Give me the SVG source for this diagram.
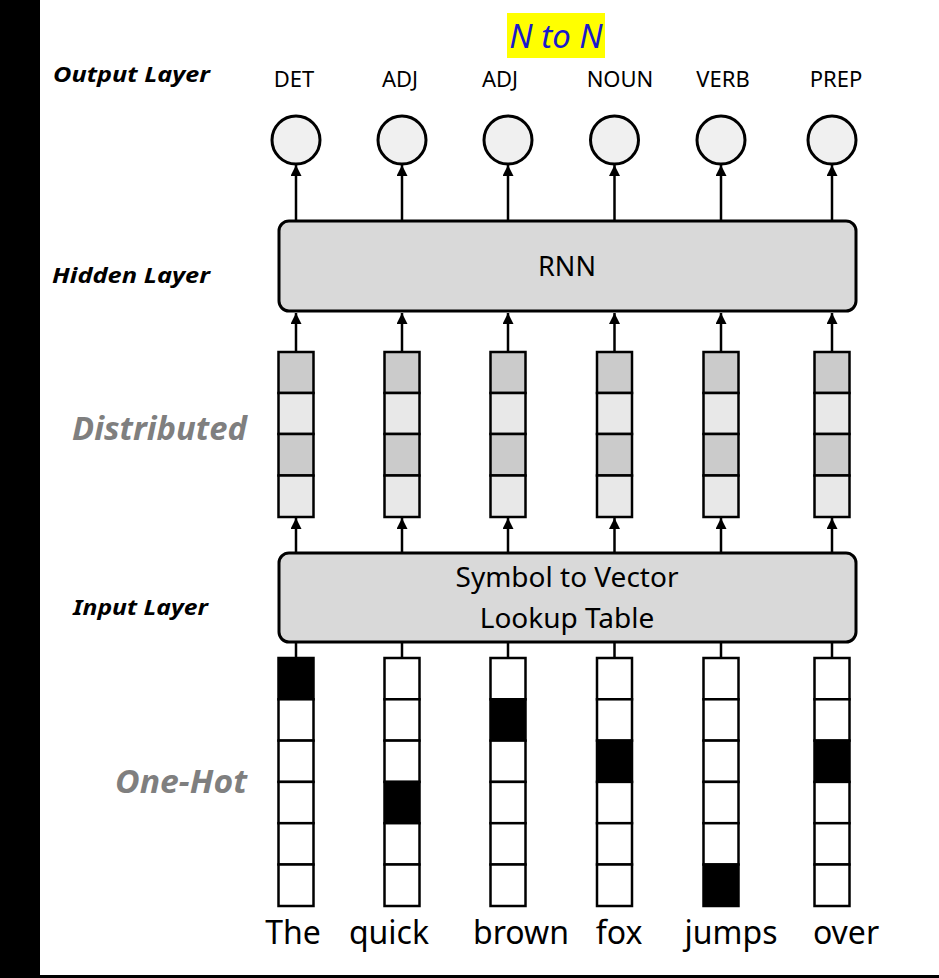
<svg xmlns="http://www.w3.org/2000/svg" width="939" height="978" viewBox="0 0 939 978">
<style>
text{font-family:"Noto Sans","Open Sans","DejaVu Sans",sans-serif;}
.lbl{font-weight:bold;font-style:italic;font-size:22px;fill:#000;}
.big{font-weight:bold;font-style:italic;font-size:33px;fill:#7f7f7f;}
.tag{font-size:22px;fill:#000;text-anchor:middle;}
.word{font-size:32px;fill:#000;text-anchor:middle;}
.box{fill:#d9d9d9;stroke:#000;stroke-width:3;}
.circ{fill:#f0f0f0;stroke:#000;stroke-width:3;}
.dk{fill:#cbcbcb;stroke:#000;stroke-width:2.5;}
.lt{fill:#e8e8e8;stroke:#000;stroke-width:2.5;}
.w{fill:#fff;stroke:#000;stroke-width:2.5;}
.b{fill:#000;stroke:#000;stroke-width:2.5;}
.con{stroke:#000;stroke-width:2.5;fill:none;}
.arr{marker-end:url(#ah);}
</style>
<defs>
<marker id="ah" viewBox="0 0 10 10" refX="10" refY="5" markerWidth="11" markerHeight="11" markerUnits="userSpaceOnUse" orient="auto">
<path d="M0,0 L10,5 L0,10 z" fill="#000"/>
</marker>
</defs>
<rect x="0" y="0" width="939" height="978" fill="#fff"/>
<rect x="0" y="0" width="40" height="978" fill="#000"/>
<rect x="40" y="975" width="899" height="3" fill="#000"/>

<g id="title">
<rect x="507" y="13" width="98" height="45" fill="#ffff00"/>
<text x="556" y="48" style="font-size:33px;font-style:italic;fill:#1a1acc;text-anchor:middle">N to N</text>
</g>

<g id="layer-labels">
<text class="lbl" x="53" y="82" textLength="157" lengthAdjust="spacingAndGlyphs">Output Layer</text>
<text class="lbl" x="52" y="283" textLength="158" lengthAdjust="spacingAndGlyphs">Hidden Layer</text>
<text class="big" x="72" y="440" textLength="175" lengthAdjust="spacingAndGlyphs">Distributed</text>
<text class="lbl" x="73" y="615" textLength="135" lengthAdjust="spacingAndGlyphs">Input Layer</text>
<text class="big" x="115" y="793" textLength="132" lengthAdjust="spacingAndGlyphs">One-Hot</text>
</g>

<g id="connectors">
<line class="con arr" x1="296" y1="221" x2="296" y2="165"/>
<line class="con arr" x1="402" y1="221" x2="402" y2="165"/>
<line class="con arr" x1="508" y1="221" x2="508" y2="165"/>
<line class="con arr" x1="614.5" y1="221" x2="614.5" y2="165"/>
<line class="con arr" x1="721" y1="221" x2="721" y2="165"/>
<line class="con arr" x1="832" y1="221" x2="832" y2="165"/>

<line class="con arr" x1="296" y1="352" x2="296" y2="313"/>
<line class="con arr" x1="402" y1="352" x2="402" y2="313"/>
<line class="con arr" x1="508" y1="352" x2="508" y2="313"/>
<line class="con arr" x1="614.5" y1="352" x2="614.5" y2="313"/>
<line class="con arr" x1="721" y1="352" x2="721" y2="313"/>
<line class="con arr" x1="832" y1="352" x2="832" y2="313"/>

<line class="con arr" x1="296" y1="553" x2="296" y2="518"/>
<line class="con arr" x1="402" y1="553" x2="402" y2="518"/>
<line class="con arr" x1="508" y1="553" x2="508" y2="518"/>
<line class="con arr" x1="614.5" y1="553" x2="614.5" y2="518"/>
<line class="con arr" x1="721" y1="553" x2="721" y2="518"/>
<line class="con arr" x1="832" y1="553" x2="832" y2="518"/>

<line class="con" x1="296" y1="643" x2="296" y2="658"/>
<line class="con" x1="402" y1="643" x2="402" y2="658"/>
<line class="con" x1="508" y1="643" x2="508" y2="658"/>
<line class="con" x1="614.5" y1="643" x2="614.5" y2="658"/>
<line class="con" x1="721" y1="643" x2="721" y2="658"/>
<line class="con" x1="832" y1="643" x2="832" y2="658"/>
</g>

<g id="outputs">
<g id="out-det"><circle class="circ" cx="296" cy="140" r="24"/><text class="tag" x="294" y="87">DET</text></g>
<g id="out-adj1"><circle class="circ" cx="402" cy="140" r="24"/><text class="tag" x="400" y="87">ADJ</text></g>
<g id="out-adj2"><circle class="circ" cx="508" cy="140" r="24"/><text class="tag" x="500" y="87">ADJ</text></g>
<g id="out-noun"><circle class="circ" cx="614.5" cy="140" r="24"/><text class="tag" x="620" y="87">NOUN</text></g>
<g id="out-verb"><circle class="circ" cx="721" cy="140" r="24"/><text class="tag" x="723" y="87">VERB</text></g>
<g id="out-prep"><circle class="circ" cx="832" cy="140" r="24"/><text class="tag" x="836" y="87">PREP</text></g>
</g>

<g id="rnn">
<rect class="box" x="279" y="221" width="577" height="90" rx="10"/>
<text x="567" y="276" style="font-size:27px;text-anchor:middle">RNN</text>
</g>

<g id="lookup">
<rect class="box" x="279" y="553" width="577" height="89" rx="10"/>
<text x="567" y="587" style="font-size:28px;text-anchor:middle">Symbol to Vector</text>
<text x="567" y="628" style="font-size:28px;text-anchor:middle">Lookup Table</text>
</g>

<g id="distributed">
<g id="dist-1"><rect class="dk" x="278.5" y="352" width="35" height="41"/><rect class="lt" x="278.5" y="393" width="35" height="41"/><rect class="dk" x="278.5" y="434" width="35" height="41.5"/><rect class="lt" x="278.5" y="475.5" width="35" height="41.5"/></g>
<g id="dist-2"><rect class="dk" x="384.5" y="352" width="35" height="41"/><rect class="lt" x="384.5" y="393" width="35" height="41"/><rect class="dk" x="384.5" y="434" width="35" height="41.5"/><rect class="lt" x="384.5" y="475.5" width="35" height="41.5"/></g>
<g id="dist-3"><rect class="dk" x="490.5" y="352" width="35" height="41"/><rect class="lt" x="490.5" y="393" width="35" height="41"/><rect class="dk" x="490.5" y="434" width="35" height="41.5"/><rect class="lt" x="490.5" y="475.5" width="35" height="41.5"/></g>
<g id="dist-4"><rect class="dk" x="597" y="352" width="35" height="41"/><rect class="lt" x="597" y="393" width="35" height="41"/><rect class="dk" x="597" y="434" width="35" height="41.5"/><rect class="lt" x="597" y="475.5" width="35" height="41.5"/></g>
<g id="dist-5"><rect class="dk" x="703.5" y="352" width="35" height="41"/><rect class="lt" x="703.5" y="393" width="35" height="41"/><rect class="dk" x="703.5" y="434" width="35" height="41.5"/><rect class="lt" x="703.5" y="475.5" width="35" height="41.5"/></g>
<g id="dist-6"><rect class="dk" x="814.5" y="352" width="35" height="41"/><rect class="lt" x="814.5" y="393" width="35" height="41"/><rect class="dk" x="814.5" y="434" width="35" height="41.5"/><rect class="lt" x="814.5" y="475.5" width="35" height="41.5"/></g>
</g>

<g id="onehot">
<g id="oh-the">
<rect class="b" x="278.5" y="658" width="35" height="41.3"/><rect class="w" x="278.5" y="699.3" width="35" height="41.3"/><rect class="w" x="278.5" y="740.6" width="35" height="41.3"/><rect class="w" x="278.5" y="781.9" width="35" height="41.3"/><rect class="w" x="278.5" y="823.2" width="35" height="41.3"/><rect class="w" x="278.5" y="864.5" width="35" height="41.5"/>
<text class="word" x="293" y="944">The</text></g>
<g id="oh-quick">
<rect class="w" x="384.5" y="658" width="35" height="41.3"/><rect class="w" x="384.5" y="699.3" width="35" height="41.3"/><rect class="w" x="384.5" y="740.6" width="35" height="41.3"/><rect class="b" x="384.5" y="781.9" width="35" height="41.3"/><rect class="w" x="384.5" y="823.2" width="35" height="41.3"/><rect class="w" x="384.5" y="864.5" width="35" height="41.5"/>
<text class="word" x="389" y="944">quick</text></g>
<g id="oh-brown">
<rect class="w" x="490.5" y="658" width="35" height="41.3"/><rect class="b" x="490.5" y="699.3" width="35" height="41.3"/><rect class="w" x="490.5" y="740.6" width="35" height="41.3"/><rect class="w" x="490.5" y="781.9" width="35" height="41.3"/><rect class="w" x="490.5" y="823.2" width="35" height="41.3"/><rect class="w" x="490.5" y="864.5" width="35" height="41.5"/>
<text class="word" x="521" y="944">brown</text></g>
<g id="oh-fox">
<rect class="w" x="597" y="658" width="35" height="41.3"/><rect class="w" x="597" y="699.3" width="35" height="41.3"/><rect class="b" x="597" y="740.6" width="35" height="41.3"/><rect class="w" x="597" y="781.9" width="35" height="41.3"/><rect class="w" x="597" y="823.2" width="35" height="41.3"/><rect class="w" x="597" y="864.5" width="35" height="41.5"/>
<text class="word" x="619" y="944">fox</text></g>
<g id="oh-jumps">
<rect class="w" x="703.5" y="658" width="35" height="41.3"/><rect class="w" x="703.5" y="699.3" width="35" height="41.3"/><rect class="w" x="703.5" y="740.6" width="35" height="41.3"/><rect class="w" x="703.5" y="781.9" width="35" height="41.3"/><rect class="w" x="703.5" y="823.2" width="35" height="41.3"/><rect class="b" x="703.5" y="864.5" width="35" height="41.5"/>
<text class="word" x="731" y="944">jumps</text></g>
<g id="oh-over">
<rect class="w" x="814.5" y="658" width="35" height="41.3"/><rect class="w" x="814.5" y="699.3" width="35" height="41.3"/><rect class="b" x="814.5" y="740.6" width="35" height="41.3"/><rect class="w" x="814.5" y="781.9" width="35" height="41.3"/><rect class="w" x="814.5" y="823.2" width="35" height="41.3"/><rect class="w" x="814.5" y="864.5" width="35" height="41.5"/>
<text class="word" x="846" y="944">over</text></g>
</g>
</svg>
